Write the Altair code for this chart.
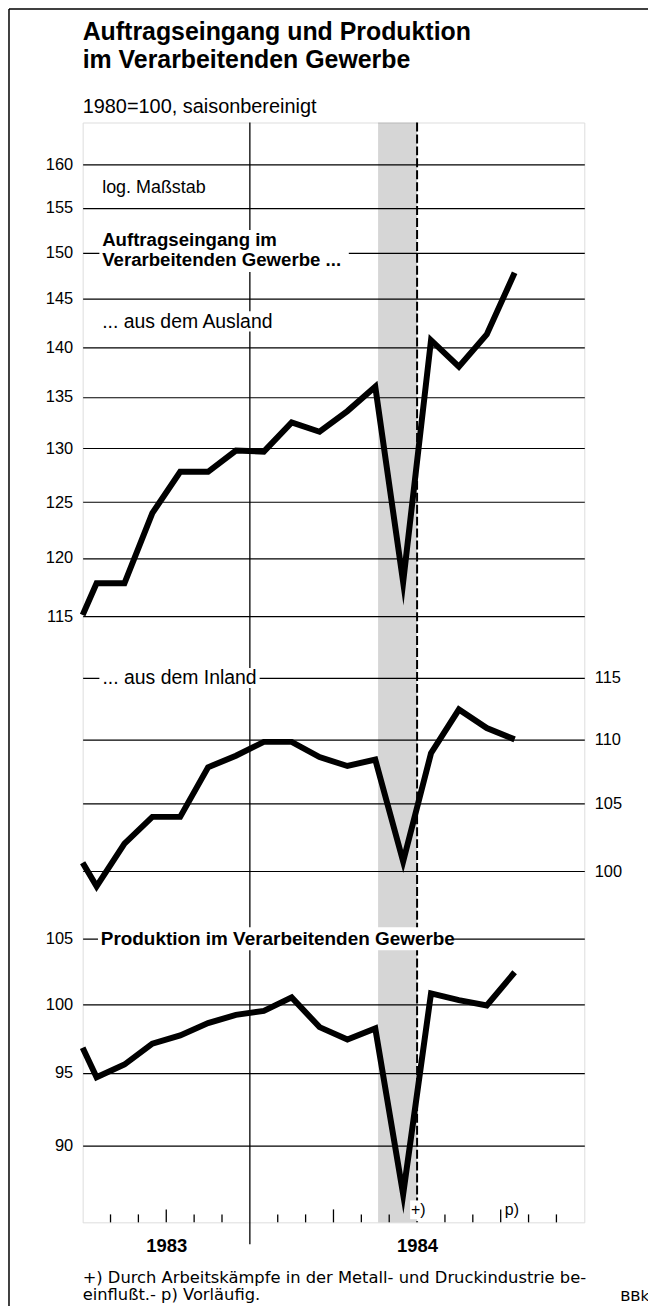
import altair as alt
import pandas as pd

# ---------------- data ----------------
# x position in axis units: 1983 shown as 6 two-month periods (0.5..5.5),
# 1984 monthly Jan..Oct (6.5..15.5); 0 = left edge of the frame
periods = [0.0, 0.5, 1.5, 2.5, 3.5, 4.5, 5.5, 6.5, 7.5, 8.5, 9.5, 10.5, 11.5, 12.5, 13.5, 14.5, 15.5]
ausland = [115.1, 117.8, 117.8, 124.0, 127.8, 127.8, 129.8, 129.7, 132.5, 131.6, 133.6, 136.0, 117.9, 140.7, 138.0, 141.3, 147.8]
inland = [100.6, 98.9, 102.0, 104.0, 104.0, 107.8, 108.7, 109.8, 109.8, 108.6, 107.9, 108.4, 100.7, 108.9, 112.4, 110.9, 110.0]
produktion = [96.8, 94.7, 95.6, 97.1, 97.7, 98.6, 99.2, 99.5, 100.5, 98.3, 97.4, 98.2, 86.8, 100.8, 100.3, 99.9, 102.4]

ticks_top = [115, 120, 125, 130, 135, 140, 145, 150, 155, 160]
ticks_mid = [100, 105, 110, 115]
ticks_bot = [90, 95, 100, 105]

year_labels = ["1983", "1984"]
year_pos = [3, 12]
minor_ticks = [1, 2, 4, 5, 7, 8, 10, 11, 13, 14, 16, 17]
major_ticks = [3, 9, 15]
year_divider = [6]
midyear_1984 = [12]
strike_band = [10.6, 12.0]

title_lines = ["Auftragseingang und Produktion", "im Verarbeitenden Gewerbe"]
subtitle_text = "1980=100, saisonbereinigt"
foot_lines = ["+) Durch Arbeitskämpfe in der Metall- und Druckindustrie be-",
              "einflußt.- p) Vorläufig."]
source_text = "BBk"

# ---------------- layout ----------------
W, H = 504, 1105
FONT = "Liberation Sans"
dom_top = [73.85, 164.96]
dom_mid = [77.55, 171.9]
dom_bot = [85.0, 192.8]

X = alt.X("x:Q", scale=alt.Scale(domain=[0, 18], nice=False, zero=False),
          axis=alt.Axis(values=year_pos,
                        labelExpr="datum.value == %d ? '%s' : '%s'" % (year_pos[0], year_labels[0], year_labels[1]),
                        ticks=False, domain=False, grid=False, labelFontSize=18.5,
                        labelFontWeight="bold", labelPadding=14, labelFont=FONT,
                        labelColor="black", title=None))
X2 = alt.X2("x2")


def yenc(domain, values, orient):
    return alt.Y("v:Q", scale=alt.Scale(type="log", domain=domain, nice=False),
                 axis=alt.Axis(values=values, orient=orient, grid=True, gridColor="black",
                               gridWidth=1.2, gridOpacity=1, domain=False, ticks=False,
                               labelFontSize=16.5, labelFont=FONT, labelColor="black",
                               labelPadding=10, format="d", title=None, labelFlush=False))


Y2 = alt.Y2("v2")
dummy = pd.DataFrame({"a": [0]})

band = alt.Chart(pd.DataFrame({"x": [strike_band[0]], "x2": [strike_band[1]]})).mark_rect(
    color="black", opacity=0.16).encode(x=X, x2=X2, y=alt.value(0), y2=alt.value(H))
divider = alt.Chart(pd.DataFrame({"x": year_divider})).mark_rule(color="black", strokeWidth=1.3).encode(
    x=X, y=alt.value(0), y2=alt.value(H + 22))
dashed = alt.Chart(pd.DataFrame({"x": midyear_1984})).mark_rule(
    color="black", strokeWidth=2, strokeDash=[9, 3]).encode(x=X, y=alt.value(0), y2=alt.value(H))
tmin = alt.Chart(pd.DataFrame({"x": minor_ticks})).mark_rule(color="black", strokeWidth=1.3).encode(
    x=X, y=alt.value(H - 8), y2=alt.value(H))
tmaj = alt.Chart(pd.DataFrame({"x": major_ticks})).mark_rule(color="black", strokeWidth=1.3).encode(
    x=X, y=alt.value(H - 13), y2=alt.value(H))


def series_layer(values, domain, tvals, orient, boxes, texts):
    Y = yenc(domain, tvals, orient)
    parts = [alt.Chart(pd.DataFrame(boxes)).mark_rect(color="white", opacity=1).encode(
        x=X, x2=X2, y=Y, y2=Y2)]
    for size, weight, rows in texts:
        parts.append(alt.Chart(pd.DataFrame(rows)).mark_text(
            font=FONT, fontSize=size, fontWeight=weight, align="left", baseline="middle",
            color="black").encode(x=X, y=Y, text="t:N"))
    parts.append(alt.Chart(pd.DataFrame({"x": periods, "v": values})).mark_line(
        color="black", strokeWidth=6, strokeJoin="miter", strokeMiterLimit=10,
        strokeCap="butt").encode(x=X, y=Y))
    return alt.layer(*parts)


top = series_layer(
    ausland, dom_top, ticks_top, "left",
    {"x": [0.6, 0.6], "x2": [9.55, 7.15], "v": [152.5, 143.7], "v2": [147.9, 141.6]},
    [(18, "normal", {"t": ["log. Maßstab"], "x": [0.7], "v": [157.2]}),
     (19.5, "normal", {"t": ["... aus dem Ausland"], "x": [0.7], "v": [142.6]}),
     (18.7, "bold", {"t": ["Auftragseingang im", "Verarbeitenden Gewerbe ..."], "x": [0.7, 0.7],
                     "v": [151.4, 149.2]})])
mid = series_layer(
    inland, dom_mid, ticks_mid, "right",
    {"x": [0.6], "x2": [6.35], "v": [115.83], "v2": [114.17]},
    [(19.5, "normal", {"t": ["... aus dem Inland"], "x": [0.71], "v": [115.0]})])
bot = series_layer(
    produktion, dom_bot, ticks_bot, "left",
    {"x": [0.55, 11.75], "x2": [13.3, 12.35], "v": [105.9, 86.4], "v2": [104.1, 85.2]},
    [(16, "normal", {"t": ["+)", "p)"], "x": [11.78, 15.15], "v": [85.8, 85.8]}),
     (19, "bold", {"t": ["Produktion im Verarbeitenden Gewerbe"], "x": [0.65], "v": [105.0]})])


def ptext(txt, x, y, size, weight="normal", font=FONT):
    return alt.Chart(dummy).mark_text(font=font, fontSize=size, fontWeight=weight, align="left",
                                      baseline="alphabetic", color="black").encode(
        x=alt.value(x), y=alt.value(y), text=alt.value(txt))


title1 = ptext(title_lines[0], 0, -83, 25, "bold")
title2 = ptext(title_lines[1], 0, -55, 25, "bold")
subt = ptext(subtitle_text, 0, -10, 20)
foot1 = ptext(foot_lines[0], 0, H + 61, 16.4, font="DejaVu Sans")
foot2 = ptext(foot_lines[1], 0, H + 78, 16.4, font="DejaVu Sans")
src = ptext(source_text, 540, H + 79, 15, font="DejaVu Sans")

border_l = alt.Chart(dummy).mark_rule(color="black", strokeWidth=1.5).encode(
    x=alt.value(-74), y=alt.value(-114), y2=alt.value(H + 84))
border_t = alt.Chart(dummy).mark_rule(color="black", strokeWidth=1.5).encode(
    x=alt.value(-74), x2=alt.value(W + 64), y=alt.value(-114))

chart = alt.layer(band, divider, dashed, tmin, tmaj, top, mid, bot,
                  title1, title2, subt, foot1, foot2, src, border_l, border_t).resolve_scale(
    y="independent"
).properties(
    width=W, height=H,
    padding={"left": 75, "top": 112, "right": 64, "bottom": 84},
    autosize=alt.AutoSizeParams(type="none"),
).configure_view(stroke="black", strokeWidth=1.3).configure(background="white")

chart.save("out.html", embed_options={"renderer": "svg", "actions": False})
